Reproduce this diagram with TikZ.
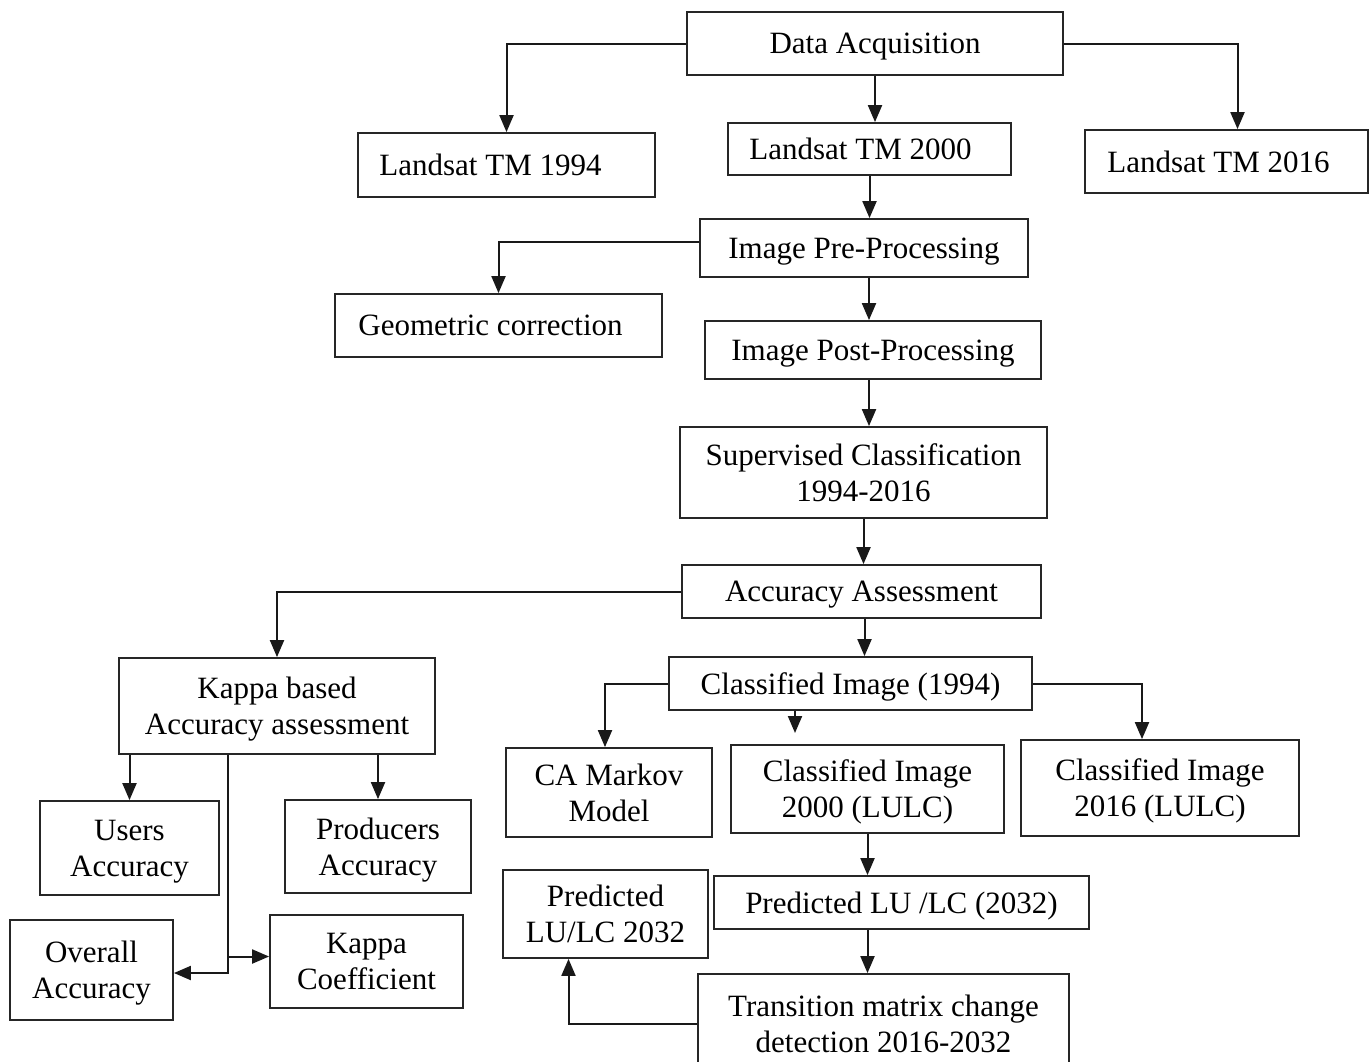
\documentclass[tikz,border=0pt]{standalone}
\usepackage{fontspec}
\setmainfont{Liberation Serif}
\usetikzlibrary{arrows.meta}
\begin{document}
\begin{tikzpicture}[x=1pt,y=-1pt,
  box/.style={draw=black!85,line width=1.8pt,rectangle,inner sep=0pt,align=center,
    text depth=0pt,font=\fontsize{31}{36}\selectfont},
  txt/.style={inner sep=0pt,align=center,text depth=0pt,font=\fontsize{31}{36}\selectfont},
  arr/.style={draw=black!90,line width=2pt,-{Triangle[length=17pt,width=14pt]}}]
\clip (0,0) rectangle (1372,1061);
\fill[white] (0,0) rectangle (1372,1061);
% boxes
\node[box,minimum width=376pt,minimum height=63pt] (da) at (875,43.5) {Data Acquisition};
\node[box,minimum width=297pt,minimum height=64pt] (l94) at (506.5,165) {};
\node[txt] (l94t) at ([xshift=-16pt]l94.center) {Landsat TM 1994};
\node[box,minimum width=283pt,minimum height=52pt] (l00) at (869.5,149) {};
\node[txt] (l00t) at ([xshift=-9pt]l00.center) {Landsat TM 2000};
\node[box,minimum width=283pt,minimum height=63pt] (l16) at (1226.5,161.5) {};
\node[txt] (l16t) at ([xshift=-8pt]l16.center) {Landsat TM 2016};
\node[box,minimum width=328pt,minimum height=58pt] (ipp) at (864,248) {Image Pre-Processing};
\node[box,minimum width=327pt,minimum height=63pt] (geo) at (498.5,325.5) {};
\node[txt] (geot) at ([xshift=-8pt]geo.center) {Geometric correction};
\node[box,minimum width=336pt,minimum height=58pt] (ipost) at (873,350) {Image Post-Processing};
\node[box,minimum width=367pt,minimum height=91pt] (sc) at (863.5,472.5) {Supervised Classification\\1994-2016};
\node[box,minimum width=359pt,minimum height=53pt] (aa) at (861.5,591.5) {Accuracy Assessment};
\node[box,minimum width=316pt,minimum height=96pt] (kap) at (277,706) {Kappa based\\Accuracy assessment};
\node[box,minimum width=363pt,minimum height=53pt] (ci94) at (850.5,683.5) {Classified Image (1994)};
\node[box,minimum width=179pt,minimum height=94pt] (users) at (129.5,848) {Users\\Accuracy};
\node[box,minimum width=186pt,minimum height=93pt] (prod) at (378,846.5) {Producers\\Accuracy};
\node[box,minimum width=163pt,minimum height=100pt] (ovr) at (91.5,970) {Overall\\Accuracy};
\node[box,minimum width=193pt,minimum height=93pt] (kc) at (366.5,961.5) {Kappa\\Coefficient};
\node[box,minimum width=206pt,minimum height=89pt] (cam) at (609,792.5) {CA Markov\\Model};
\node[box,minimum width=273pt,minimum height=88pt] (ci00) at (867.5,789) {Classified Image\\2000 (LULC)};
\node[box,minimum width=278pt,minimum height=96pt] (ci16) at (1160,788) {Classified Image\\2016 (LULC)};
\node[box,minimum width=205pt,minimum height=88pt] (p32) at (605.5,914) {Predicted\\LU/LC 2032};
\node[box,minimum width=375pt,minimum height=53pt] (plc) at (901.5,902.5) {Predicted LU /LC (2032)};
\node[box,minimum width=371pt,minimum height=100pt] (tm) at (883.5,1024) {Transition matrix change\\detection 2016-2032};
% helper coordinates
\coordinate (citip) at (795,733);
\coordinate (stem) at (228,0);
\coordinate (kcin) at ([yshift=5pt]kc.west);
\coordinate (ovin) at ([yshift=-3pt]ovr.east);
% connectors
\draw[arr] (da.west) -| (l94.north);
\draw[arr] (da.south) -- (da.south |- l00.north);
\draw[arr] (da.east) -| ([xshift=11pt]l16.north);
\draw[arr] (l00.south) -- (l00.south |- ipp.north);
\draw[arr] ([yshift=6pt]ipp.west) -| (geo.north);
\draw[arr] ([xshift=5pt]ipp.south) -- ([xshift=5pt]ipp.south |- ipost.north);
\draw[arr] ([xshift=-4pt]ipost.south) -- ([xshift=-4pt]ipost.south |- sc.north);
\draw[arr] (sc.south) -- (sc.south |- aa.north);
\draw[arr] (aa.west) -| (kap.north);
\draw[arr] ([xshift=3pt]aa.south) -- ([xshift=3pt]aa.south |- ci94.north);
\draw[arr] (ci94.west) -| ([xshift=-4pt]cam.north);
\draw[arr] (ci94.south -| citip) -- (citip);
\draw[arr] (ci94.east) -| ([xshift=-18pt]ci16.north);
\draw[arr] (ci00.south) -- (ci00.south |- plc.north);
\draw[arr] (ci00.south |- plc.south) -- (ci00.south |- tm.north);
\draw[arr] (tm.west) -| ([xshift=-37pt]p32.south);
\draw[arr] (kap.south -| users.north) -- (users.north);
\draw[arr] (kap.south -| prod.north) -- (prod.north);
\draw[arr] (kap.south -| stem) |- (ovin);
\draw[arr] (stem |- kcin) -- (kcin);
\end{tikzpicture}
\end{document}
